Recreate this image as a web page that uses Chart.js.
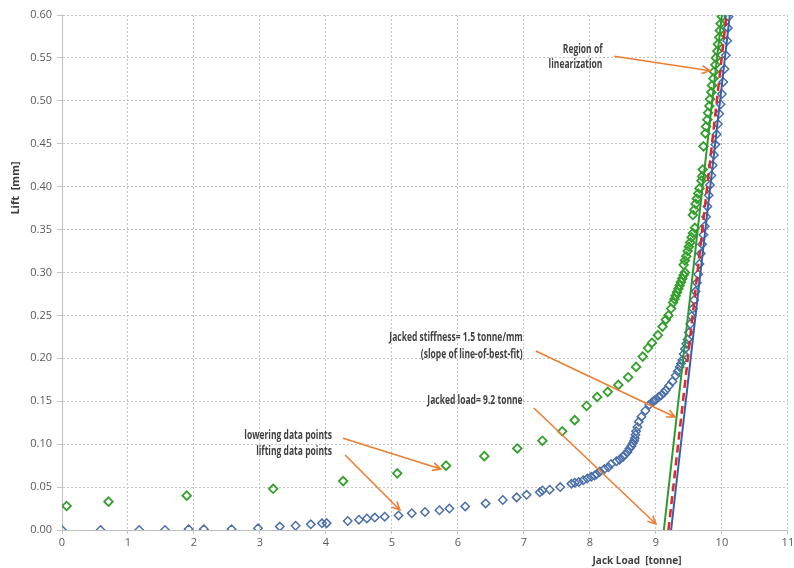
<!DOCTYPE html>
<html>
<head>
<meta charset="utf-8">
<script src="https://cdn.jsdelivr.net/npm/chart.js@4.4.0/dist/chart.umd.min.js"></script>
<style>
  html, body { margin: 0; background: #fff; }
  #wrap { width: 794px; height: 568px; }
</style>
</head>
<body>
<div id="wrap"><canvas id="liftChart"></canvas></div>
<script>
// lifting data points (blue)
const liftingLoad = [0, 0.585, 1.17, 1.56, 1.92, 2.15, 2.57, 2.97, 3.30, 3.54, 3.77, 3.94, 4.01, 4.33, 4.50,
  4.62, 4.74, 4.89, 5.10, 5.30, 5.50, 5.72, 5.87, 6.11, 6.42, 6.68, 6.89, 7.04, 7.24, 7.28,
  7.39, 7.55, 7.72, 7.77, 7.83, 7.90, 7.96, 8.02, 8.07, 8.10, 8.15, 8.22, 8.28, 8.32, 8.40,
  8.45, 8.50, 8.53, 8.57, 8.60, 8.63, 8.65, 8.67, 8.68, 8.69, 8.70, 8.72, 8.74, 8.78, 8.84,
  8.90, 8.95, 8.98, 9.00, 9.04, 9.08, 9.12, 9.15, 9.20, 9.25, 9.30, 9.33, 9.36, 9.38,
  9.40, 9.42, 9.44, 9.46, 9.48, 9.50, 9.52, 9.54, 9.56, 9.58, 9.60, 9.62, 9.64, 9.66, 9.68,
  9.70, 9.72, 9.74, 9.76, 9.78, 9.80, 9.82, 9.84, 9.86, 9.88, 9.90, 9.92, 9.94, 9.96, 9.98,
  10.00, 10.02, 10.04, 10.06, 10.08, 10.09, 10.10];
const liftingLift = [0, 0, 0, 0, 0.001, 0.001, 0.001, 0.002, 0.004, 0.005, 0.0066, 0.0078, 0.008, 0.0105, 0.012,
  0.0135, 0.0145, 0.0155, 0.017, 0.0195, 0.021, 0.023, 0.025, 0.0275, 0.031, 0.035, 0.038, 0.041, 0.044, 0.046,
  0.047, 0.050, 0.054, 0.055, 0.056, 0.058, 0.060, 0.062, 0.0635, 0.065, 0.068, 0.071, 0.073, 0.077, 0.080,
  0.082, 0.085, 0.088, 0.091, 0.095, 0.098, 0.101, 0.104, 0.107, 0.111, 0.115, 0.120, 0.126, 0.132, 0.139,
  0.146, 0.1495, 0.151, 0.152, 0.155, 0.157, 0.160, 0.163, 0.168, 0.173, 0.180, 0.185, 0.190, 0.194,
  0.198, 0.205, 0.211, 0.217, 0.222, 0.230, 0.240, 0.249, 0.258, 0.268, 0.278, 0.288, 0.298, 0.310, 0.322,
  0.333, 0.344, 0.354, 0.365, 0.377, 0.390, 0.402, 0.413, 0.425, 0.437, 0.449, 0.461, 0.473, 0.485, 0.496,
  0.508, 0.522, 0.537, 0.553, 0.570, 0.585, 0.598];

// lowering data points (green)
const loweringLoad = [0.07, 0.705, 1.89, 3.20, 4.26, 5.08, 5.82, 6.40, 6.90, 7.28,
  7.58, 7.77, 7.95, 8.11, 8.27, 8.43, 8.58, 8.70, 8.80, 8.88,
  8.94, 9.03, 9.10, 9.15, 9.19, 9.23,
  9.26, 9.28, 9.30, 9.32, 9.34, 9.36, 9.38, 9.40, 9.42, 9.44,
  9.42, 9.44, 9.46, 9.48, 9.50, 9.52, 9.54, 9.56, 9.59,
  9.56, 9.58, 9.60, 9.62, 9.64, 9.66, 9.69,
  9.70, 9.71, 9.72,
  9.75, 9.76, 9.78, 9.79, 9.81, 9.82, 9.84, 9.85, 9.87, 9.88, 9.90, 9.91, 9.93, 9.94, 9.96, 9.97, 9.98, 10.0];
const loweringLift = [0.028, 0.033, 0.040, 0.048, 0.057, 0.066, 0.075, 0.086, 0.095, 0.104,
  0.115, 0.128, 0.1445, 0.155, 0.161, 0.169, 0.178, 0.190, 0.202, 0.212,
  0.218, 0.227, 0.237, 0.245, 0.250, 0.258,
  0.265, 0.269, 0.273, 0.277, 0.281, 0.285, 0.289, 0.293, 0.297, 0.300,
  0.309, 0.314, 0.319, 0.325, 0.330, 0.335, 0.341, 0.346, 0.352,
  0.367, 0.373, 0.380, 0.386, 0.392, 0.398, 0.407,
  0.412, 0.420, 0.447,
  0.462, 0.470, 0.478, 0.486, 0.494, 0.502, 0.510, 0.518, 0.526, 0.534, 0.542, 0.550, 0.558, 0.566, 0.574, 0.582, 0.590, 0.598];

// lines of best fit (end points)
const fitLift = [0, 0.6];
const greenFitLoad = [9.12, 10.00];
const redFitLoad = [9.19, 10.07];
const blueFitLoad = [9.23, 10.12];

const toPoints = (xs, ys) => xs.map((x, i) => ({ x: x, y: ys[i] }));

const BLUE = '#4a6fa8';
const GREEN = '#33a02c';
const ORANGE = '#ed7d31';
const TEXT = '#404040';
const NOTE_FONT = 'bold 11.5px "Open Sans", sans-serif';
const NOTE_SQUEEZE = 0.74; // the original font is narrower than anything installed

// annotation texts and arrows, placed in data units
const notes = [
  { text: 'Region of', x: 8.19, y: 0.559, align: 'right' },
  { text: 'linearization', x: 8.19, y: 0.542, align: 'right' },
  { text: 'Jacked stiffness= 1.5 tonne/mm', x: 6.98, y: 0.2237, align: 'right' },
  { text: '(slope of line-of-best-fit)', x: 6.98, y: 0.2039, align: 'right' },
  { text: 'Jacked load= 9.2 tonne', x: 6.98, y: 0.1503, align: 'right' },
  { text: 'lowering data points', x: 4.09, y: 0.1095, align: 'right' },
  { text: 'lifting data points', x: 4.09, y: 0.0909, align: 'right' }
];
const arrows = [
  { from: [8.37, 0.552], to: [9.82, 0.535] },
  { from: [7.18, 0.2086], to: [9.29, 0.1317] },
  { from: [7.15, 0.1421], to: [9.00, 0.007] },
  { from: [4.26, 0.107], to: [5.74, 0.071] },
  { from: [4.29, 0.0874], to: [5.12, 0.0233] }
];

const annotate = {
  id: 'annotate',
  afterDatasetsDraw(chart) {
    const ctx = chart.ctx;
    const xs = chart.scales.x, ys = chart.scales.y;
    ctx.save();
    ctx.strokeStyle = ORANGE;
    ctx.lineWidth = 1.6;
    arrows.forEach(a => {
      const x1 = xs.getPixelForValue(a.from[0]), y1 = ys.getPixelForValue(a.from[1]);
      const x2 = xs.getPixelForValue(a.to[0]), y2 = ys.getPixelForValue(a.to[1]);
      ctx.beginPath();
      ctx.moveTo(x1, y1);
      ctx.lineTo(x2, y2);
      const ang = Math.atan2(y2 - y1, x2 - x1);
      ctx.moveTo(x2 - 9 * Math.cos(ang - 0.45), y2 - 9 * Math.sin(ang - 0.45));
      ctx.lineTo(x2, y2);
      ctx.lineTo(x2 - 9 * Math.cos(ang + 0.45), y2 - 9 * Math.sin(ang + 0.45));
      ctx.stroke();
    });
    ctx.fillStyle = TEXT;
    ctx.font = NOTE_FONT;
    ctx.textBaseline = 'middle';
    notes.forEach(n => {
      ctx.save();
      ctx.translate(xs.getPixelForValue(n.x), ys.getPixelForValue(n.y));
      ctx.scale(NOTE_SQUEEZE, 1);
      ctx.textAlign = n.align;
      ctx.fillText(n.text, 0, 0);
      ctx.restore();
    });
    // axis titles
    ctx.textAlign = 'center';
    ctx.font = 'bold 10px "Open Sans", sans-serif';
    ctx.fillText('Jack Load  [tonne]', 637, 561);
    ctx.font = 'bold 11px "Open Sans", sans-serif';
    ctx.translate(16, 188);
    ctx.rotate(-Math.PI / 2);
    ctx.fillText('Lift  [mm]', 0, 0);
    ctx.restore();
  }
};

new Chart(document.getElementById('liftChart'), {
  type: 'scatter',
  data: {
    datasets: [
      {
        label: 'Best fit (lowering)',
        type: 'line',
        data: toPoints(greenFitLoad, fitLift),
        borderColor: '#2e9a2e',
        borderWidth: 2,
        pointRadius: 0,
        order: 0
      },
      {
        label: 'Best fit',
        type: 'line',
        data: toPoints(redFitLoad, fitLift),
        borderColor: '#e02828',
        borderWidth: 2.5,
        borderDash: [8, 5],
        pointRadius: 0,
        order: 0
      },
      {
        label: 'Best fit (lifting)',
        type: 'line',
        data: toPoints(blueFitLoad, fitLift),
        borderColor: '#3a5ea8',
        borderWidth: 2,
        pointRadius: 0,
        order: 0
      },
      {
        label: 'lowering data points',
        data: toPoints(loweringLoad, loweringLift),
        pointStyle: 'rectRot',
        pointRadius: 4.3,
        pointBorderWidth: 1.8,
        borderColor: GREEN,
        backgroundColor: 'rgba(255,255,255,0)',
        order: 2
      },
      {
        label: 'lifting data points',
        data: toPoints(liftingLoad, liftingLift),
        pointStyle: 'rectRot',
        pointRadius: 4.2,
        pointBorderWidth: 1.5,
        borderColor: BLUE,
        backgroundColor: 'rgba(255,255,255,0)',
        order: 1
      }
    ]
  },
  plugins: [annotate],
  options: {
    responsive: true,
    maintainAspectRatio: false,
    animation: false,
    layout: { padding: { top: 15, right: 4, left: 0, bottom: 0 } },
    plugins: {
      legend: { display: false },
      tooltip: { enabled: false }
    },
    scales: {
      x: {
        type: 'linear',
        min: 0,
        max: 11,
        ticks: { stepSize: 1, color: '#595959', font: { family: 'Open Sans', size: 11 }, padding: 2 },
        grid: { color: '#c4c4c4', tickLength: 4 },
        border: { color: '#bfbfbf', width: 1, dash: [2, 2] },
        afterFit: s => { s.height = 38; s.paddingLeft = 0; s.paddingRight = 0; }
      },
      y: {
        min: 0,
        max: 0.6,
        ticks: {
          stepSize: 0.05,
          color: '#595959',
          font: { family: 'Open Sans', size: 11 },
          padding: 5,
          callback: v => v.toFixed(2)
        },
        grid: { color: '#c4c4c4', tickLength: 5 },
        border: { color: '#bfbfbf', width: 1, dash: [2, 2] },
        afterFit: s => { s.width = 62; s.paddingTop = 0; s.paddingBottom = 0; }
      }
    }
  }
});
</script>
</body>
</html>
